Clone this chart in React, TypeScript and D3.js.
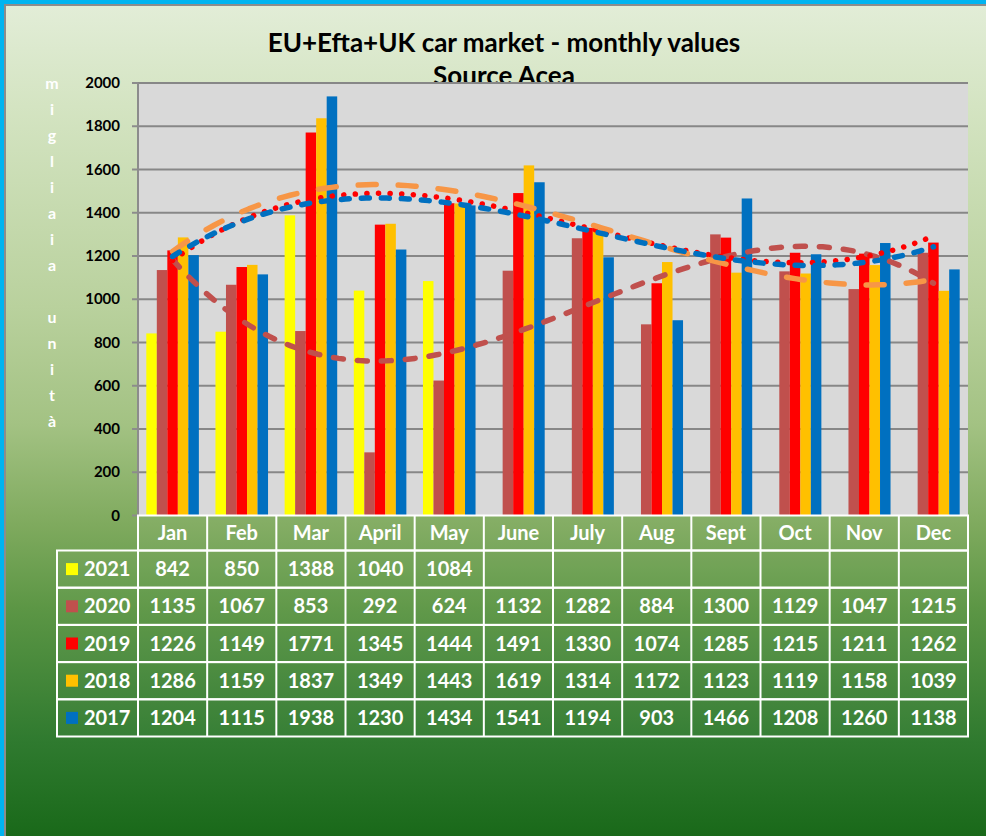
import React from "react";
import * as d3 from "d3";

const MONTHS = ["Jan", "Feb", "Mar", "April", "May", "June", "July", "Aug", "Sept", "Oct", "Nov", "Dec"];
const SERIES = ["2021", "2020", "2019", "2018", "2017"];
const V2021: (number | null)[] = [842, 850, 1388, 1040, 1084, null, null, null, null, null, null, null];
const V2020: (number | null)[] = [1135, 1067, 853, 292, 624, 1132, 1282, 884, 1300, 1129, 1047, 1215];
const V2019: (number | null)[] = [1226, 1149, 1771, 1345, 1444, 1491, 1330, 1074, 1285, 1215, 1211, 1262];
const V2018: (number | null)[] = [1286, 1159, 1837, 1349, 1443, 1619, 1314, 1172, 1123, 1119, 1158, 1039];
const V2017: (number | null)[] = [1204, 1115, 1938, 1230, 1434, 1541, 1194, 903, 1466, 1208, 1260, 1138];
const VALUES = [V2021, V2020, V2019, V2018, V2017];
const COLORS = ["#FFFF00", "#C0504D", "#FF0000", "#FFC000", "#0070C0"];
const Y_TICKS = [0, 200, 400, 600, 800, 1000, 1200, 1400, 1600, 1800, 2000];
const Y_TITLE = ["m", "i", "g", "l", "i", "a", "i", "a", "", "u", "n", "i", "t", "à"];
const TITLE1 = "EU+Efta+UK car market - monthly values";
const TITLE2 = "Source Acea";

// trendlines (polynomial, like Excel)
const TRENDS = [
  { series: 1, order: 3, color: "#C0504D", dash: "10 14", width: 5.5 },
  { series: 2, order: 3, color: "#FF0000", dash: "0.1 11.5", width: 5.5 },
  { series: 3, order: 3, color: "#F79646", dash: "18 22", width: 5.5 },
  { series: 4, order: 3, color: "#0070C0", dash: "8 12", width: 5.5 },
];

function polyFit(ys: number[], order: number) {
  const n = order + 1;
  const A: number[][] = Array.from({ length: n }, () => new Array(n + 1).fill(0));
  ys.forEach((y, i) => {
    const x = i + 1;
    for (let r = 0; r < n; r++) {
      for (let c = 0; c < n; c++) A[r][c] += Math.pow(x, r + c);
      A[r][n] += y * Math.pow(x, r);
    }
  });
  for (let p = 0; p < n; p++) {
    let best = p;
    for (let r = p + 1; r < n; r++) if (Math.abs(A[r][p]) > Math.abs(A[best][p])) best = r;
    [A[p], A[best]] = [A[best], A[p]];
    for (let r = 0; r < n; r++) {
      if (r === p) continue;
      const f = A[r][p] / A[p][p];
      for (let c = p; c <= n; c++) A[r][c] -= f * A[p][c];
    }
  }
  const coef = A.map((row, i) => row[n] / row[i]);
  return (x: number) => coef.reduce((s, c, i) => s + c * Math.pow(x, i), 0);
}

const W = 986;
const H = 836;
const PL = 138;
const PR = 968;
const PT = 83;
const PB = 515.5;
const TABLE_LEFT = 57;
const HEADER_H = 35;
const ROW_H = 37.2;
const FONT = "Lato, 'Open Sans', sans-serif";

export default function App() {
  const x0 = d3.scaleBand<string>().domain(MONTHS).range([PL, PR]).padding(0);
  const bw = x0.bandwidth();
  const x1 = d3.scaleBand<string>().domain(SERIES).range([8.3, bw - 8.3]).padding(0);
  const y = d3.scaleLinear().domain([0, 2000]).range([PB, PT]);
  const xt = d3.scaleLinear().domain([1, 12]).range([PL + bw / 2, PR - bw / 2]);
  const line = d3.line<[number, number]>().x((d) => xt(d[0])).y((d) => y(d[1])).curve(d3.curveLinear);
  const samples = d3.range(1, 12.0001, 0.1);

  const tableTop = PB;
  const rowsTop = tableTop + HEADER_H;
  const tableBottom = rowsTop + ROW_H * SERIES.length;

  return (
    <svg width={W} height={H} style={{ position: "absolute", left: 0, top: 0, display: "block" }} fontFamily={FONT}>
      <defs>
        <linearGradient id="bg" x1="0" y1="0" x2="0" y2="1">
          <stop offset="0" stopColor="#E2EDD7" />
          <stop offset="0.12" stopColor="#D4E4C2" />
          <stop offset="0.36" stopColor="#B9D19D" />
          <stop offset="0.5" stopColor="#A3C283" />
          <stop offset="0.62" stopColor="#7FAA5E" />
          <stop offset="0.72" stopColor="#5C9645" />
          <stop offset="0.88" stopColor="#2F7A2F" />
          <stop offset="1" stopColor="#186818" />
        </linearGradient>
      </defs>
      <rect x={0} y={0} width={W} height={H} fill="#00B4F0" />
      <rect x={4} y={4} width={W} height={H} fill="#8C8C8C" />
      <rect x={6} y={6} width={W} height={H} fill="url(#bg)" />

      {/* title */}
      <text x={504} y={52} textAnchor="middle" fontSize={26} fontWeight="bold" fill="#000">{TITLE1}</text>
      <text x={504} y={85} textAnchor="middle" fontSize={26} fontWeight="bold" fill="#000">{TITLE2}</text>

      {/* plot area */}
      <rect x={PL} y={PT} width={PR - PL} height={PB - PT} fill="#D9D9D9" />
      {Y_TICKS.filter((t) => t > 0).map((t) => (
        <line key={t} x1={PL} x2={PR} y1={y(t)} y2={y(t)} stroke="#878787" strokeWidth={2} />
      ))}
      <line x1={PL} x2={PL} y1={PT} y2={PB} stroke="#8C8C8C" strokeWidth={2} />
      {Y_TICKS.map((t) => (
        <g key={t}>
          <line x1={PL - 6} x2={PL} y1={y(t)} y2={y(t)} stroke="#8C8C8C" strokeWidth={2} />
          <text x={120} y={y(t) + 5} textAnchor="end" fontSize={15} fontWeight="bold" fill="#000">{t}</text>
        </g>
      ))}

      {/* y axis title */}
      {Y_TITLE.map((ch, i) => (
        <text key={i} x={52} y={PT + 6 + i * 26} textAnchor="middle" fontSize={16} fontWeight="bold" fill="#FFFFFF">{ch}</text>
      ))}

      {/* bars */}
      {MONTHS.map((m, mi) => (
        <g key={m} transform={`translate(${x0(m)},0)`}>
          {SERIES.map((s, si) => {
            const v = VALUES[si][mi];
            if (v == null) return null;
            return (
              <rect key={s} x={x1(s)} y={y(v)} width={x1.bandwidth()} height={y(0) - y(v)} fill={COLORS[si]} />
            );
          })}
        </g>
      ))}

      {/* trendlines */}
      {TRENDS.map((t) => {
        const f = polyFit(VALUES[t.series] as number[], t.order);
        const pts: [number, number][] = samples.map((xx) => [xx, f(xx)]);
        return (
          <path key={t.series} d={line(pts) || ""} fill="none" stroke={t.color} strokeWidth={t.width}
            strokeDasharray={t.dash} strokeLinecap="round" strokeLinejoin="round" />
        );
      })}

      {/* data table */}
      <g stroke="#FFFFFF" strokeWidth={2} fill="none">
        <rect x={PL} y={tableTop} width={PR - PL} height={HEADER_H} fill="rgba(255,255,255,0.04)" />
        {MONTHS.map((m) => (
          <line key={m} x1={x0(m)} x2={x0(m)} y1={tableTop} y2={tableBottom} />
        ))}
        <line x1={PR} x2={PR} y1={tableTop} y2={tableBottom} />
        {SERIES.map((s, si) => (
          <rect key={s} x={TABLE_LEFT} y={rowsTop + si * ROW_H} width={PR - TABLE_LEFT} height={ROW_H} fill="rgba(255,255,255,0.03)" />
        ))}
      </g>
      {MONTHS.map((m) => (
        <text key={m} x={(x0(m) as number) + bw / 2} y={tableTop + HEADER_H / 2 + 7} textAnchor="middle" fontSize={20} fontWeight="bold" fill="#FFFFFF">{m}</text>
      ))}
      {SERIES.map((s, si) => (
        <g key={s}>
          <rect x={66} y={rowsTop + si * ROW_H + ROW_H / 2 - 6} width={12} height={12} fill={COLORS[si]} />
          <text x={84} y={rowsTop + si * ROW_H + ROW_H / 2 + 7} fontSize={20} fontWeight="bold" fill="#FFFFFF">{s}</text>
          {MONTHS.map((m, mi) => {
            const v = VALUES[si][mi];
            if (v == null) return null;
            return (
              <text key={m} x={(x0(m) as number) + bw / 2} y={rowsTop + si * ROW_H + ROW_H / 2 + 7} textAnchor="middle" fontSize={20} fontWeight="bold" fill="#FFFFFF">{v}</text>
            );
          })}
        </g>
      ))}
    </svg>
  );
}
